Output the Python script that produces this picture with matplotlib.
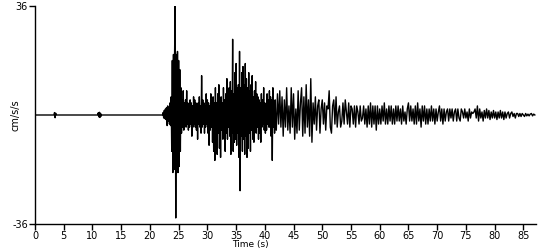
import matplotlib
matplotlib.use("Agg")
import matplotlib.pyplot as plt
import numpy as np

# quiet part of the record before the first arrival (time s, cm/s/s)
pre_time = [0.0, 3.3, 3.4, 3.5, 3.6, 3.7, 10.9, 11.0, 11.1, 11.2, 11.3, 11.4, 11.5, 11.6, 22.2]
pre_acc = [0.0, 0.0, 0.8, -0.9, 0.6, 0.0, 0.0, 0.7, -0.6, 0.9, -0.8, 0.6, -0.4, 0.0, 0.0]

# strong motion, one value every 0.1 s from 22.3 s
strong_t0 = 22.3
strong_dt = 0.1
strong_acc = [
    0.8, -1.0, 1.5, -1.2, 2.0, -1.5, 2.5,                     # 22.3
    -3.5, 3.0, -2.0, 2.5, -3.0, 4.0, -3.5, 6.0, -12, 18,       # 23
    -19, 20, -18, 21, 36, -34, 20, -19, 21, -19,               # 24
    18, -17, 15, -12, 9, -6, 5, -4, 8, -5,                     # 25
    4, -3, 5, -4, 8, -3, 4, -5, 3, -4,                         # 26
    5, -3, 4, -7, 3, -4, 6, -3, 5, -4,                         # 27
    4, -5, 3, -8, 4, -3, 6, -4, 3, -6,                         # 28
    13, -4, 5, -3, 4, -6, 3, -4, 7, -3,                        # 29
    5, -6, 4, -10, 3, -5, 7, -4, 5, -9,                        # 30
    6, -12, 4, -15, 9, -5, 4, -13, 7, -6,                      # 31
    10, -11, 4, -14, 6, -5, 4, -8, 9, -4,                      # 32
    5, -12, 7, -6, 12, -8, 5, -4, 9, -7,                       # 33
    11, -13, 8, -6, 25, -12, 7, -9, 14, -8,                    # 34
    17, -10, 9, -6, 10, -14, 21, -25, 9, -7,                   # 35
    14, -12, 16, -8, 10, -13, 17, -7, 12, -14,                 # 36
    9, -11, 14, -6, 8, -12, 10, -5, 13, -8,                    # 37
    6, -9, 8, -5, 11, -6, 7, -4, 6, -8,                        # 38
    5, -6, 4, -9, 7, -4, 5, -3, 9, -5,                         # 39
    4, -6, 3, -5, 7, -3, 5, -4, 8, -4,                         # 40
    6, -7, 5, -15, 9, -4, 3, -6, 5, -4,                        # 41
]

# coda, one value every 0.2 s from 42.0 s
coda_t0 = 42.0
coda_dt = 0.2
coda_acc = [
    -5, 7, -3, 8, -4,               # 42
    6, -7, 5, -4, 9,                # 43
    -5, 3, -6, 9, -4,               # 44
    7, -8, 2, -6, 8,                # 45
    -5, 4, 9, -7, 6,                # 46
    -6, 10, -4, 5, -7,              # 47
    12, -9, 4, -3, 6,               # 48
    -5, 3, 5, -6, 2,                # 49
    5, -3, 4, -5, 3,                # 50
    2, 8, -4, -6, 3,                # 51
    5, -3, 6, -4, 1,                # 52
    3, -4, -2, 4, -3,               # 53
    5, 1, -3, 4, -4,                # 54
    3, 2, -3, 3, -4,                # 55
    3, 1, -3, 3, -2,                # 56
    -1, 3, -3, 2, -4,               # 57
    3, -3, 4, -4, 3,                # 58
    -3, 3, -5, 3, -3,               # 59
    2, -3, 3, -2, 4,                # 60
    -3, 2, -3, 3, -2,               # 61
    3, -3, 2, -3, 3,                # 62
    -2, 3, -2, 2, -3,               # 63
    3, -2, 1, -3, 2,                # 64
    4, -2, 3, -2, 2,                # 65
    -3, 3, -3, 4, -2,               # 66
    2, -4, 3, -2, 3,                # 67
    -3, 2, -3, 2, -2,               # 68
    3, -2, 2, -3, 2,                # 69
    -2, 1, 3, -2, 2,                # 70
    -3, 2, -2, 1, 2,                # 71
    -2, 2, -1, 2, -2,               # 72
    1, 2, -2, 2, -1,                # 73
    -2, 2, 1, -1, 2,                # 74
    -1, 1, -2, 2, -1,               # 75
    1, 0.5, 1, 2, -1,               # 76
    3, -2, 2, -1, 1,                # 77
    -2, 1.5, -1, 2, -1,             # 78
    1.5, -1.5, 1, -1, 1.5,          # 79
    -1, 1, -1.5, 1, -1,             # 80
    1.5, -1, 1, -1.5, 1,            # 81
    -1, 0.5, 1, -1, 0.5,            # 82
    1, -0.5, 0.5, -1, 0.5,          # 83
    0.5, -0.5, 0.5, -0.5, 0.5,      # 84
    0, -0.5, 0.5, -0.3, 0.3,        # 85
    -0.3, 0.3, 0.5, -0.3, 0.3,      # 86
    0.0,
]

strong_time = strong_t0 + strong_dt * np.arange(len(strong_acc))
coda_time = coda_t0 + coda_dt * np.arange(len(coda_acc))

time = np.concatenate([pre_time, strong_time, coda_time])
values = np.concatenate([pre_acc, strong_acc, coda_acc])

fig = plt.figure(figsize=(5.5, 2.5), dpi=100)
ax = fig.add_axes([35 / 550, 1 - 224 / 250, (536 - 35) / 550, (224 - 6) / 250])
ax.plot(time, values, color="black", lw=1.0)

ax.set_xlim(0, 87.2)
ax.set_ylim(-36, 36)
ax.set_xticks(range(0, 90, 5))
ax.set_yticks([-36, 36])
ax.set_yticklabels(["-36", "36"])
ax.tick_params(axis="both", labelsize=7, length=4, width=1, pad=1)
ax.set_xlabel("Time (s)", fontsize=6.5, va="top")
ax.xaxis.set_label_coords(0.43, -0.075)
ax.set_ylabel("cm/s/s", fontsize=7, labelpad=-6)

for side in ["top", "right"]:
    ax.spines[side].set_visible(False)
for side in ["left", "bottom"]:
    ax.spines[side].set_linewidth(1)

fig.savefig("out.png", dpi=100)
